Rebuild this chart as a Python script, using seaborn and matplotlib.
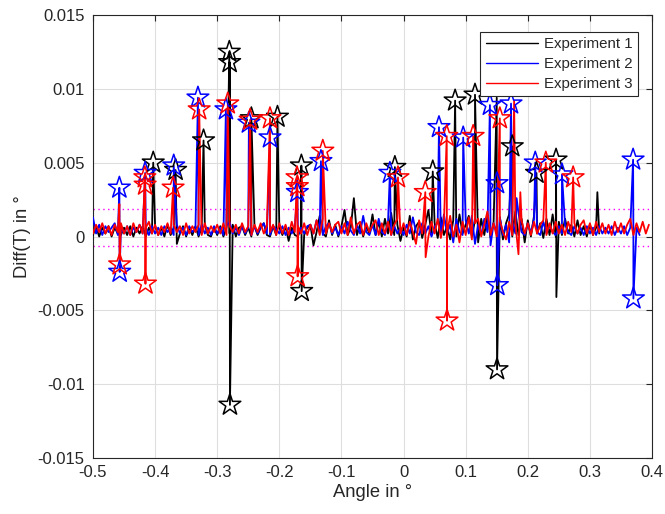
import numpy as np
import pandas as pd
import matplotlib
matplotlib.use("Agg")
import matplotlib.pyplot as plt
import seaborn as sns

# ---------------- data (values in units of 1e-3 degree) ----------------
STEP = 0.005
X0 = -0.5

black_noise = [
    0.1, 0.7, 0.0, 0.6, 0.2, 0.7, 0.0, 0.6, 0.2, 0.1,
    0.6, 0.1, 0.7, 0.0, 0.6, 0.2, 0.7, 0.0, 0.6, 0.2,
    0.7, 0.1, 0.6, 0.0, 0.8, 0.1, 0.6, -0.5, 0.2, 0.7,
    0.0, 0.6, 0.1, 0.7, 0.0, 0.6, 0.8, 0.1, 0.0, 0.6,
    0.1, 0.7, 0.0, 0.6, 0.2, 0.8, 0.0, 0.6, 0.7, 0.1,
    0.6, 0.0, 0.7, 0.1, 0.6, 0.9, 0.1, 0.0, 0.7, 0.1,
    0.6, 0.1, 0.7, -0.3, 0.6, 0.1, 0.0, 0.7, 0.1, 0.6,
    0.8, -0.6, 0.3, 1.4, 0.2, 0.0, 1.1, 0.1, 0.8, 0.0,
    0.7, 1.8, 0.1, 0.6, 2.6, 0.1, 0.8, 0.0, 0.7, 0.2,
    1.5, 0.1, 1.0, 0.0, 1.2, 0.2, 1.6, 0.1, 0.8, -0.3,
    0.6, 0.0, 1.4, -0.2, 0.7, 1.0, -0.1, 0.8, 1.8, 0.1,
    0.9, -0.1, 1.3, 0.1, 0.7, -0.2, 1.1, 0.0, 1.5, 0.2,
    0.8, 1.4, 0.0, 1.1, -0.4, 1.2, 0.1, 1.5, -0.1, 1.0,
    0.1, 1.3, -0.2, 0.9, 1.5, 0.0, 1.7, 0.1, 1.2, -0.4,
    1.1, 0.0, 1.4, 0.2, 0.9, -0.1, 1.2, 0.1, 1.5, 0.0,
    1.0, 0.1, 1.2, 0.2, 0.8, 0.0, 1.1, 0.1, 0.7, 0.0,
    0.8, 0.1, 0.6, 0.2,
]
blue_noise = [
    1.3, 0.2, 0.8, 0.1, 0.7, 0.3, 0.6, 0.9, 0.1, 0.6,
    0.2, 0.7, 0.1, 0.6, 0.3, 0.8, 0.2, 0.6, 0.1, 0.7,
    0.2, 0.6, 0.1, 0.7, 0.3, 0.6, 0.1, 0.8, 0.2, 0.6,
    0.1, 0.7, 0.3, 0.6, 0.1, 0.8, 0.2, 0.6, 0.1, 0.7,
    0.2, 0.6, 0.1, 0.7, 1.0, 0.2, 0.6, 0.1, 0.7, 0.2,
    0.6, 0.1, 0.7, 0.2, 0.6, 0.9, 0.2, 0.1, 0.7, 0.5,
    0.2, 0.7, 0.1, 0.6, 0.2, 0.7, 0.1, 0.6, 0.2, 0.7,
    0.8, 0.2, 1.1, 0.4, 0.1, 0.7, 0.9, 0.2, 0.6, 0.1,
    0.7, 0.2, 1.0, 0.4, 0.1, 0.8, 0.2, 1.4, 0.3, 0.1,
    0.8, 0.1, 1.2, 0.3, 0.1, 1.0, 0.1, 0.7, 0.2, 0.6,
    0.1, 0.8, 0.2, 1.3, 0.3, 0.1, 0.9, 0.2, 0.7, 0.0,
    0.6, 1.0, 0.1, 1.5, 0.2, 0.8, -0.4, 1.2, 0.3, 0.1,
    1.1, 0.2, 1.4, -0.5, 0.8, 0.1, 1.2, 0.3, -0.6, 0.9,
    0.2, 1.3, 0.1, 0.8, -0.4, 1.0, 0.2, 1.6, 0.3, 0.1,
    0.9, 0.2, 1.2, 0.3, 0.1, 1.0, 0.2, 0.8, 0.3, 0.1,
    0.7, 0.2, 0.8, 0.3, 0.1, 0.7, 0.2, 0.6, 0.1, 0.7,
    0.2, 0.6, 0.1, 0.7, 0.2, 0.6, 0.2, 0.7, 0.1, 0.6,
    0.2, 0.7, 0.1, 0.6, 0.2, 0.6, 0.1,
]
red_noise = [
    0.2, 0.8, 0.3, 0.9, 0.2, 0.7, 0.1, 0.8, 0.3, 0.9,
    0.2, 0.7, 0.1, 0.9, 0.3, 0.8, 0.2, 0.6, 1.0, 0.2,
    0.8, 0.1, 0.7, 0.3, 0.9, 0.2, 0.8, 0.3, 0.7, 0.1,
    0.9, 0.2, 0.7, 0.3, 0.8, 0.1, 0.9, 0.2, 0.7, 0.3,
    0.8, 0.2, 0.9, 0.1, 0.7, 0.3, 0.8, 0.2, 0.9, 0.3,
    0.7, 0.1, 0.8, 0.3, 0.9, 0.2, 0.7, 0.3, 0.8, 0.1,
    0.9, 0.2, 0.8, 0.1, 1.0, 0.3, 0.7, 0.2, 0.9, 0.1,
    0.8, 0.2, 1.1, 0.1, 1.2, 0.2, 0.9, 0.3, 0.8, 1.0,
    0.2, 0.9, 0.1, 1.3, 0.2, 0.8, 1.0, 0.1, 0.9, 0.3,
    0.8, 1.1, 0.1, 0.9, 0.2, 1.0, 0.1, 0.8, 1.2, 0.2,
    0.9, 0.1, 1.0, 0.3, -0.5, 1.1, 0.2, 0.9, 0.0, 1.0,
    0.2, 1.2, -0.1, 0.9, 0.2, 1.4, 0.0, 0.8, -0.4, 1.0,
    0.1, 1.3, -0.2, 0.9, 1.2, 0.0, 0.8, 1.7, 0.1, 0.9,
    0.0, 1.1, 0.3, -0.2, 1.0, 0.1, 0.9, -1.2, 1.1, 0.2,
    0.9, 0.1, 1.0, 0.2, 0.8, 1.1, 0.1, 0.9, 0.2, 1.0,
    0.2, 0.8, 0.1, 1.0, 0.3, 0.9, 0.2, 0.8, 1.1, 0.2,
    0.9, 0.1, 1.0, 0.3, 0.9, 0.2, 0.8, 0.1, 1.0, 0.3,
    0.9, 0.2, 0.8, 1.2, 0.1, 0.9, 0.3, 1.0, 0.2, 0.8,
]

# detected peaks (marked with stars)
black_peak_x = [-0.403, -0.367, -0.322, -0.2805, -0.280, -0.2795, -0.245, -0.203,
                -0.1645, -0.164, -0.014, 0.047, 0.083, 0.115, 0.1505, 0.175,
                0.214, 0.2455]
black_peak_y = [5.0, 4.5, 6.5, 12.5, 11.8, -11.4, 8.0, 8.1,
                4.8, -3.7, 4.7, 4.4, 9.2, 9.6, -9.0, 6.1,
                4.3, 5.2]
blue_peak_x = [-0.4575, -0.457, -0.416, -0.370, -0.331, -0.286, -0.249, -0.215,
               -0.171, -0.133, -0.022, 0.057, 0.096, 0.139, 0.1505, 0.151,
               0.173, 0.212, 0.255, 0.3695, 0.370]
blue_peak_y = [3.3, -2.4, 4.3, 4.8, 9.4, 8.6, 7.7, 6.7,
               3.0, 5.1, 4.3, 7.4, 6.7, 8.9, 3.6, -3.3,
               9.0, 5.0, 4.2, 5.2, -4.2]
red_peak_x = [-0.457, -0.4165, -0.416, -0.4155, -0.371, -0.329, -0.283, -0.247,
              -0.215, -0.1715, -0.171, -0.1705, -0.130, -0.009, 0.035, 0.0695,
              0.070, 0.112, 0.155, 0.229, 0.273]
red_peak_y = [-1.9, 4.0, 3.5, -3.2, 3.3, 8.6, 9.0, 7.9,
              8.0, 4.0, 3.4, -2.7, 5.8, 4.0, 3.0, 6.8,
              -5.7, 6.8, 8.0, 5.0, 4.0]

# other spikes (not marked)
black_spike_x = [0.150, 0.246, 0.312]
black_spike_y = [9.4, -4.1, 3.0]
blue_spike_x = [0.182]
blue_spike_y = [2.6]
red_spike_x = [-0.4575, 0.0355, 0.178, 0.188]
red_spike_y = [2.2, -1.4, 9.2, 3.0]

threshold_hi = 1.86
threshold_lo = -0.66

series_names = ["Experiment 1", "Experiment 2", "Experiment 3"]
series_colors = ["#000000", "#0000FF", "#FF0000"]

x_ticks = [-0.5, -0.4, -0.3, -0.2, -0.1, 0, 0.1, 0.2, 0.3, 0.4]
x_tick_labels = ["-0.5", "-0.4", "-0.3", "-0.2", "-0.1", "0", "0.1", "0.2", "0.3", "0.4"]
y_ticks = [-0.015, -0.01, -0.005, 0, 0.005, 0.01, 0.015]
y_tick_labels = ["-0.015", "-0.01", "-0.005", "0", "0.005", "0.01", "0.015"]

SCALE = 1e-3


def build(noise, px, py, sx, sy):
    gx = X0 + STEP * np.arange(len(noise))
    xs = np.concatenate([gx, np.array(px), np.array(sx)])
    ys = np.concatenate([np.array(noise), np.array(py), np.array(sy)]) * SCALE
    order = np.argsort(xs, kind="stable")
    return pd.DataFrame({"x": xs[order], "y": ys[order]})


sns.set_theme(style="white")
plt.rcParams["font.family"] = ["Liberation Sans", "DejaVu Sans"]
plt.rcParams["axes.unicode_minus"] = False

fig = plt.figure(figsize=(6.65, 5.14), dpi=100)
ax = fig.add_axes([0.1398, 0.1089, 0.8407, 0.8619])

data = [
    (black_noise, black_peak_x, black_peak_y, black_spike_x, black_spike_y),
    (blue_noise, blue_peak_x, blue_peak_y, blue_spike_x, blue_spike_y),
    (red_noise, red_peak_x, red_peak_y, red_spike_x, red_spike_y),
]

for (noise, px, py, sx, sy), name, col in zip(data, series_names, series_colors):
    df = build(noise, px, py, sx, sy)
    sns.lineplot(data=df, x="x", y="y", sort=False, estimator=None, color=col,
                 lw=1.3, label=name, ax=ax, zorder=3)

for (noise, px, py, sx, sy), col in zip(data, series_colors):
    pk = pd.DataFrame({"x": px, "y": np.array(py) * SCALE})
    sns.scatterplot(data=pk, x="x", y="y", marker="*", s=270, facecolors="none",
                    edgecolor=col, linewidth=1.1, ax=ax, zorder=4, legend=False)

ax.axhline(threshold_hi * SCALE, color="#FF00FF", ls=(0, (1, 2.5)), lw=1.0, zorder=2)
ax.axhline(threshold_lo * SCALE, color="#FF00FF", ls=(0, (1, 2.5)), lw=1.0, zorder=2)

ax.set_xlim(-0.5, 0.4)
ax.set_ylim(-0.015, 0.015)
ax.set_xticks(x_ticks)
ax.set_xticklabels(x_tick_labels)
ax.set_yticks(y_ticks)
ax.set_yticklabels(y_tick_labels)
ax.grid(True, color="#DEDEDE", lw=0.8)
ax.set_axisbelow(True)
ax.tick_params(direction="in", length=4, width=0.8, colors="#262626",
               labelsize=12, top=True, right=True)
ax.tick_params(axis="x", pad=5)
ax.tick_params(axis="y", pad=6)
for sp in ax.spines.values():
    sp.set_color("#262626")
    sp.set_linewidth(0.8)

ax.set_xlabel("Angle in °", fontsize=13.2, color="#262626", labelpad=3)
ax.set_ylabel("Diff(T) in °", fontsize=13.2, color="#262626", labelpad=5)

leg = ax.legend(loc="upper right", bbox_to_anchor=(0.975, 0.962), borderaxespad=0,
                fontsize=10.8, handlelength=3.5, frameon=True, fancybox=False,
                framealpha=1, edgecolor="#262626", borderpad=0.35, labelspacing=0.4,
                handletextpad=0.4)
leg.get_frame().set_linewidth(0.8)
for h in leg.get_lines():
    h.set_linewidth(1.0)

fig.savefig("out.png", dpi=100)
